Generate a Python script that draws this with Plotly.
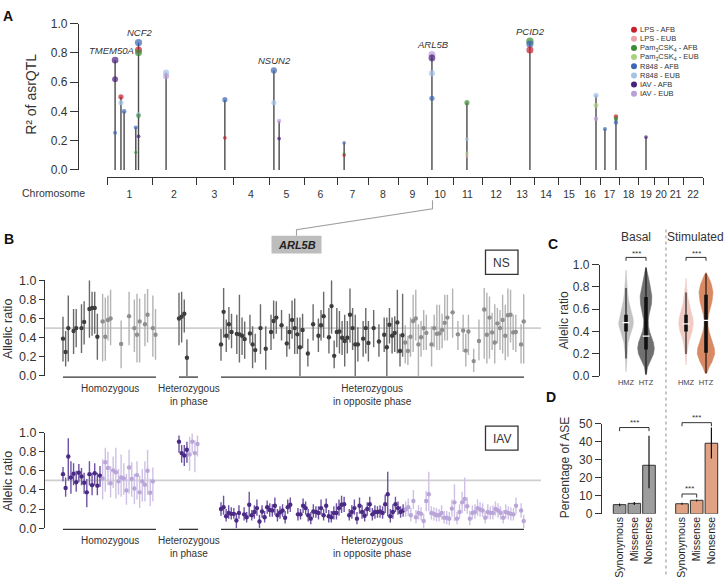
import plotly.graph_objects as go

W, H = 726, 584
def fx(p): return p / W
def fy(p): return 1 - p / H

FONT = "Arial, 'Liberation Sans', sans-serif"
INK = "#333333"

# ---------------- Panel A data ----------------
chrom_labels = [str(i) for i in range(1, 23)]
chrom_widths = [45, 44, 37, 36, 35, 33, 31, 30, 29, 26, 29, 28, 24, 24, 22, 20, 19, 19, 16, 14, 15, 20]

series_names = ["LPS - AFB", "LPS - EUB", "Pam<sub>3</sub>CSK<sub>4</sub> - AFB",
                "Pam<sub>3</sub>CSK<sub>4</sub> - EUB", "R848 - AFB", "R848 - EUB",
                "IAV - AFB", "IAV - EUB"]
series_colors = ["#c8202e", "#eba3ab", "#3b8c35", "#a9d27f", "#3d66b6", "#a4c3e8", "#4a1f7e", "#baa0d8"]

locus_chrom = [1, 1, 1, 1, 1, 2, 3, 5, 5, 7, 10, 11, 13, 16, 17, 17, 19]
locus_frac = [0.18, 0.31, 0.38, 0.64, 0.70, 0.32, 0.78, 0.14, 0.29, 0.23, 0.19, 0.48, 0.83, 0.80, 0.26, 0.84, 0.50]

pt_locus = [0, 0, 0, 1, 1, 2, 3, 3, 4, 4, 4, 4, 4, 4, 5, 5, 6, 6, 7, 7, 8, 8, 9, 9, 9,
            10, 10, 10, 10, 11, 11, 11, 11, 12, 12, 12, 13, 13, 13, 14, 15, 15, 15, 16]
pt_series = [6, 6, 4, 0, 5, 4, 4, 2, 4, 0, 2, 5, 2, 6, 5, 7, 4, 0, 4, 5, 7, 6, 4, 2, 0,
             7, 6, 5, 4, 2, 5, 3, 1, 2, 4, 0, 5, 3, 7, 4, 0, 2, 4, 6]
pt_r2 = [0.75, 0.62, 0.255, 0.50, 0.46, 0.40, 0.29, 0.12, 0.87, 0.82, 0.80, 0.38, 0.37, 0.23,
         0.665, 0.64, 0.48, 0.22, 0.68, 0.46, 0.335, 0.215, 0.185, 0.11, 0.10,
         0.79, 0.765, 0.66, 0.49, 0.46, 0.21, 0.115, 0.095, 0.88, 0.86, 0.82,
         0.51, 0.44, 0.35, 0.28, 0.365, 0.35, 0.325, 0.225]

gene_names = ["TMEM50A", "NCF2", "NSUN2", "ARL5B", "PCID2"]
gene_locus = [0, 4, 7, 10, 12]

# ---------------- Panel B data ----------------
N = None
ns_hom_val = [0.39, 0.25, 0.50, N, 0.47, 0.50, N, 0.50, 0.565, N, 0.70, 0.71, 0.71, 0.41, N, 0.57, 0.41, 0.585,
              0.60, N, N, N, 0.335, N, N, 0.625, N, 0.50, 0.43, 0.57, N, 0.54, 0.64, N, 0.50, 0.43]
ns_hom_lo = [0.15, 0.10, 0.15, N, 0.23, 0.30, N, 0.24, 0.33, N, 0.40, 0.42, 0.44, 0.17, N, 0.15, 0.16, 0.37,
             0.32, N, N, N, 0.08, N, N, 0.32, N, 0.25, 0.14, 0.14, N, 0.31, 0.35, N, 0.20, 0.17]
ns_hom_hi = [0.62, 0.47, 0.84, N, 0.70, 0.70, N, 0.75, 0.78, N, 1.00, 0.88, 0.88, 0.65, N, 0.86, 0.82, 0.84,
             0.90, N, N, N, 0.58, N, N, 0.88, N, 0.80, 0.86, 0.81, N, 0.86, 0.91, N, 0.84, 0.70]
ns_in_val = [0.60, 0.62, 0.65, 0.19, N, N, N, N]
ns_in_lo = [0.32, 0.35, 0.455, 0.0, N, N, N, N]
ns_in_hi = [0.87, 0.88, 0.80, 0.38, N, N, N, N]
ns_opp_val = [0.33, 0.67, 0.42, 0.54, 0.46, N, 0.44, 0.435, 0.42, 0.385,
              N, 0.445, 0.33, 0.27, N, 0.50, N, 0.285, N, 0.46,
              0.575, 0.61, N, 0.53, N, 0.34, 0.46, 0.585, 0.50, 0.435,
              0.30, 0.48, N, 0.235, N, 0.54, N, 0.42, 0.53, 0.625,
              N, 0.405, 0.73, 0.21, 0.46, 0.465, 0.40, 0.365, 0.40, 0.64,
              0.50, 0.33, 0.33, N, 0.39, 0.50, 0.345, N, 0.50, N,
              0.36, N, 0.43, 0.30, 0.535, 0.42, 0.45, 0.56, 0.26, 0.425,
              0.35, 0.26, 0.41, 0.575, 0.60, 0.33, 0.405, 0.50, 0.45, N,
              0.33, 0.50, 0.44, 0.445, 0.48, 0.555, 0.61, N, 0.665, N,
              0.435, N, 0.475, 0.265, 0.465, N, 0.155, N, 0.365, N,
              0.695, 0.43, 0.61, 0.455, 0.35, 0.55, 0.50, 0.585, 0.42, 0.635,
              0.64, 0.455, 0.46, N, 0.33, 0.57]
ns_opp_lo = [0.16, 0.40, 0.25, 0.38, 0.29, N, 0.23, 0.14, 0.22, 0.18,
             N, 0.34, 0.08, 0.14, N, 0.23, N, 0.065, N, 0.27,
             0.39, 0.44, N, 0.37, N, 0.20, 0.28, 0.39, 0.23, 0.23,
             0.0, 0.29, N, 0.10, N, 0.37, N, 0.25, 0.37, 0.40,
             N, 0.235, 0.44, 0.08, 0.30, 0.235, 0.22, 0.10, 0.235, 0.35,
             0.27, 0.0, 0.15, N, 0.20, 0.235, 0.15, N, 0.30, N,
             0.20, N, 0.25, 0.0, 0.34, 0.235, 0.25, 0.235, 0.10, 0.20,
             0.13, 0.115, 0.20, 0.25, 0.37, 0.0, 0.20, 0.27, 0.27, N,
             0.10, 0.30, 0.27, 0.27, 0.29, 0.37, 0.37, N, 0.40, N,
             0.27, N, 0.25, 0.10, 0.22, N, 0.04, N, 0.165, N,
             0.18, 0.13, 0.18, 0.27, 0.13, 0.34, 0.27, 0.235, 0.165, 0.20,
             0.35, 0.27, 0.25, N, 0.13, 0.13]
ns_opp_hi = [0.49, 0.92, 0.59, 0.72, 0.65, N, 0.64, 0.85, 0.61, 0.57,
             N, 0.64, 0.52, 0.44, N, 0.75, N, 0.52, N, 0.64,
             0.79, 0.78, N, 0.69, N, 0.52, 0.65, 0.79, 0.81, 0.61,
             0.61, 0.65, N, 0.39, N, 0.75, N, 0.60, 0.69, 0.88,
             N, 0.71, 1.00, 0.37, 0.71, 0.68, 0.575, 0.64, 0.575, 0.915,
             0.71, 0.64, 0.51, N, 0.575, 0.71, 0.575, N, 0.69, N,
             0.54, N, 0.61, 0.61, 0.71, 0.61, 0.625, 0.90, 0.44, 0.86,
             0.53, 0.42, 0.61, 0.85, 0.90, 0.54, 0.575, 0.69, 0.64, N,
             0.52, 0.64, 0.745, 0.745, 0.65, 0.85, 0.85, N, 0.915, N,
             0.575, N, 0.64, 0.44, 0.64, N, 0.285, N, 0.59, N,
             0.92, 0.87, 0.83, 0.66, 0.75, 0.71, 0.69, 0.85, 0.745, 0.915,
             0.90, 0.64, 0.64, N, 0.54, 0.855]

iav_hom_val = [0.565, 0.42, 0.75, 0.53, 0.57, 0.48, 0.58, 0.54, 0.475, 0.375,
               0.565, 0.45, 0.575, 0.445, 0.55, 0.52, 0.69, 0.63, 0.47, 0.605,
               0.585, 0.49, 0.53, 0.52, 0.395, 0.635, 0.515, 0.415, 0.555, 0.375,
               0.49, 0.455, 0.60, 0.37, 0.49, N]
iav_hom_lo = [0.49, 0.33, 0.50, 0.36, 0.45, 0.38, 0.48, 0.45, 0.36, 0.22,
              0.45, 0.345, 0.45, 0.345, 0.43, 0.30, 0.38, 0.45, 0.32, 0.42,
              0.31, 0.35, 0.33, 0.35, 0.245, 0.36, 0.33, 0.25, 0.30, 0.21,
              0.28, 0.28, 0.35, 0.23, 0.28, N]
iav_hom_hi = [0.64, 0.53, 0.94, 0.70, 0.68, 0.60, 0.67, 0.63, 0.58, 0.515,
              0.70, 0.58, 0.68, 0.58, 0.65, 0.72, 0.84, 0.80, 0.65, 0.75,
              0.84, 0.62, 0.77, 0.68, 0.57, 0.82, 0.69, 0.57, 0.70, 0.55,
              0.62, 0.70, 0.82, 0.52, 0.635, N]
iav_in_val = [0.905, 0.785, 0.76, 0.82, 0.77, 0.905, 0.785, 0.88]
iav_in_lo = [0.79, 0.685, 0.65, 0.685, 0.60, 0.79, 0.585, 0.75]
iav_in_hi = [0.97, 0.87, 0.87, 0.905, 0.955, 0.99, 0.92, 0.97]
iav_opp_val = [0.20, 0.22, 0.125, 0.16, 0.15, 0.15, 0.08, 0.16, N, 0.145,
               0.115, 0.245, 0.135, 0.17, 0.21, 0.07, 0.175, 0.115, 0.22, 0.19,
               0.185, 0.235, 0.135, 0.165, 0.185, 0.11, 0.22, 0.245, N, N,
               0.145, 0.145, 0.235, 0.21, 0.135, 0.10, 0.175, 0.17, 0.16, 0.21,
               0.135, 0.235, 0.125, 0.115, 0.16, 0.16, 0.21, 0.245, 0.25, N,
               0.135, 0.17, 0.21, 0.10, 0.235, 0.17, 0.13, 0.20, 0.25, 0.145,
               0.17, 0.17, 0.175, 0.16, 0.25, 0.355, 0.125, 0.17, 0.25, 0.21,
               0.17, 0.185, 0.195, 0.22, 0.135, 0.285, 0.115, 0.16, 0.15, 0.075,
               0.285, 0.355, 0.16, 0.15, 0.135, 0.135, 0.16, 0.11, 0.11, 0.10,
               0.205, 0.27, 0.10, 0.17, 0.27, 0.305, 0.23, 0.10, 0.16, 0.17,
               0.21, 0.195, 0.185, 0.11, 0.17, 0.16, 0.16, 0.20, 0.185, 0.16,
               0.11, 0.17, 0.16, 0.15, 0.145, 0.235, N, 0.185, 0.075]
iav_opp_lo = [0.13, 0.14, 0.07, 0.10, 0.09, 0.10, 0.0, 0.10, N, 0.08,
              0.06, 0.12, 0.08, 0.10, 0.13, 0.0, 0.11, 0.06, 0.15, 0.12,
              0.12, 0.14, 0.07, 0.10, 0.12, 0.05, 0.15, 0.17, N, N,
              0.08, 0.09, 0.16, 0.14, 0.07, 0.04, 0.11, 0.11, 0.09, 0.14,
              0.08, 0.16, 0.06, 0.06, 0.09, 0.09, 0.13, 0.16, 0.17, N,
              0.08, 0.10, 0.14, 0.04, 0.15, 0.10, 0.07, 0.13, 0.17, 0.08,
              0.10, 0.11, 0.11, 0.10, 0.16, 0.125, 0.06, 0.10, 0.17, 0.14,
              0.11, 0.12, 0.12, 0.13, 0.07, 0.20, 0.05, 0.09, 0.08, 0.0,
              0.18, 0.18, 0.09, 0.08, 0.07, 0.07, 0.09, 0.05, 0.04, 0.03,
              0.12, 0.075, 0.04, 0.10, 0.16, 0.18, 0.15, 0.03, 0.09, 0.10,
              0.13, 0.12, 0.12, 0.05, 0.10, 0.09, 0.09, 0.13, 0.11, 0.09,
              0.05, 0.10, 0.09, 0.08, 0.08, 0.15, N, 0.11, 0.0]
iav_opp_hi = [0.27, 0.34, 0.20, 0.24, 0.22, 0.21, 0.16, 0.24, N, 0.22,
              0.17, 0.38, 0.19, 0.24, 0.30, 0.14, 0.24, 0.18, 0.29, 0.26,
              0.25, 0.32, 0.20, 0.23, 0.25, 0.18, 0.30, 0.32, N, N,
              0.21, 0.20, 0.31, 0.28, 0.20, 0.17, 0.25, 0.23, 0.23, 0.30,
              0.20, 0.31, 0.19, 0.18, 0.23, 0.26, 0.30, 0.34, 0.33, N,
              0.20, 0.24, 0.30, 0.17, 0.32, 0.24, 0.20, 0.27, 0.33, 0.21,
              0.24, 0.23, 0.24, 0.23, 0.35, 0.59, 0.20, 0.25, 0.33, 0.28,
              0.23, 0.25, 0.28, 0.31, 0.21, 0.40, 0.19, 0.24, 0.22, 0.15,
              0.39, 0.59, 0.23, 0.22, 0.21, 0.20, 0.24, 0.18, 0.18, 0.17,
              0.30, 0.46, 0.17, 0.25, 0.38, 0.53, 0.32, 0.18, 0.24, 0.25,
              0.30, 0.27, 0.26, 0.18, 0.25, 0.23, 0.24, 0.28, 0.26, 0.23,
              0.19, 0.25, 0.23, 0.22, 0.21, 0.32, N, 0.26, 0.14]
# number of leading AFB (darker) samples in each group: homozygous, in phase, opposite phase
ns_n_afb = [14, 8, 70]
iav_n_afb = [15, 4, 72]
group_names = ["Homozygous", "Heterozygous<br>in phase", "Heterozygous<br>in opposite phase"]

# ---------------- Panel C data (violin outlines) ----------------
vio_names = ["HMZ", "HTZ", "HMZ", "HTZ"]
vio_levels = [
    [0.04, 0.10, 0.20, 0.30, 0.35, 0.40, 0.45, 0.48, 0.52, 0.57, 0.62, 0.68, 0.75, 0.82, 0.90, 0.95],
    [0.01, 0.08, 0.15, 0.20, 0.25, 0.30, 0.35, 0.40, 0.45, 0.50, 0.55, 0.60, 0.65, 0.72, 0.78, 0.84, 0.90, 0.95, 0.98],
    [0.10, 0.20, 0.30, 0.35, 0.40, 0.47, 0.52, 0.58, 0.65, 0.72, 0.80, 0.88],
    [0.02, 0.08, 0.13, 0.20, 0.25, 0.30, 0.35, 0.40, 0.45, 0.50, 0.55, 0.60, 0.67, 0.75, 0.82, 0.87, 0.91, 0.93],
]
vio_halfwidth = [
    [0.0, 0.3, 0.8, 2.0, 3.5, 5.5, 7.0, 7.3, 7.0, 5.5, 4.0, 2.5, 1.5, 0.8, 0.3, 0.0],
    [0.3, 1.5, 5.0, 7.5, 8.3, 7.5, 5.5, 3.5, 2.5, 2.3, 3.0, 4.5, 5.5, 5.8, 5.0, 3.5, 2.0, 0.8, 0.0],
    [0.0, 0.8, 2.5, 4.0, 6.0, 7.3, 6.8, 5.0, 3.0, 1.5, 0.6, 0.0],
    [0.5, 3.0, 6.0, 8.7, 8.3, 6.5, 4.5, 3.0, 2.0, 1.8, 2.5, 4.0, 6.0, 7.0, 5.5, 3.5, 1.5, 0.0],
]
# whisker low, q1, median, q3, whisker high
vio_stats = [[0.16, 0.40, 0.48, 0.55, 0.79],
             [0.02, 0.24, 0.36, 0.71, 0.97],
             [0.20, 0.40, 0.47, 0.55, 0.75],
             [0.03, 0.21, 0.50, 0.73, 0.92]]
vio_colors = ["#c2c2c2", "#707070", "#efcbc4", "#d98963"]

# ---------------- Panel D data ----------------
ase_cats = ["Synonymous", "Missense", "Nonsense"]
ase_basal = [5.1, 5.8, 26.9]
ase_basal_lo = [4.2, 4.9, 14.2]
ase_basal_hi = [5.8, 6.6, 43.3]
ase_stim = [5.6, 7.5, 39.1]
ase_stim_lo = [5.1, 6.9, 30.7]
ase_stim_hi = [6.2, 8.0, 47.8]

fig = go.Figure()

# ================= Panel A =================
chrom_start = []
acc = 0
for w in chrom_widths:
    chrom_start.append(acc)
    acc += w
genome_len = acc
chrom_bounds = chrom_start + [genome_len]
chrom_mid = [s + w / 2 for s, w in zip(chrom_start, chrom_widths)]
locus_x = [chrom_start[c - 1] + f * chrom_widths[c - 1] for c, f in zip(locus_chrom, locus_frac)]
locus_top = [max(r for l, r in zip(pt_locus, pt_r2) if l == i) for i in range(len(locus_x))]

sx, sy = [], []
for x, t in zip(locus_x, locus_top):
    sx += [x, x, None]
    sy += [0, t, None]
fig.add_trace(go.Scatter(x=sx, y=sy, mode="lines", line=dict(color="#4a4a4a", width=1.4),
                         xaxis="x", yaxis="y", hoverinfo="skip"))
order = sorted(range(len(pt_r2)), key=lambda i: -pt_r2[i])
fig.add_trace(go.Scatter(
    x=[locus_x[pt_locus[i]] for i in order], y=[pt_r2[i] for i in order], mode="markers",
    marker=dict(color=[series_colors[pt_series[i]] for i in order],
                size=[2.6 + 5.4 * pt_r2[i] for i in order], line=dict(width=0)),
    xaxis="x", yaxis="y", cliponaxis=False))

annotations = []
shapes = []

# legend (markers on a hidden axis, labels as annotations)
legend_rows = list(range(len(series_names), 0, -1))
fig.add_trace(go.Scatter(x=[0] * len(series_names), y=legend_rows, mode="markers",
                         marker=dict(color=series_colors, size=6), xaxis="x7", yaxis="y7", cliponaxis=False))
for name, row in zip(series_names, legend_rows):
    annotations.append(dict(text=name, x=0, y=row, xref="x7", yref="y7", showarrow=False, xanchor="left",
                            yanchor="middle", xshift=4, font=dict(size=7.5, color=INK, family=FONT)))

def ann(text, x, y, size, color=INK, **kw):
    d = dict(text=text, x=fx(x), y=fy(y), xref="paper", yref="paper", showarrow=False,
             font=dict(size=size, color=color, family=FONT), xanchor="center", yanchor="middle")
    d.update(kw)
    return d

for g, li in zip(gene_names, gene_locus):
    annotations.append(dict(text="<i>%s</i>" % g, x=locus_x[li], y=locus_top[li], xref="x", yref="y",
                            showarrow=False, yshift=10, xshift=-4 if g == "TMEM50A" else 1,
                            font=dict(size=9.5, color=INK, family=FONT)))

annotations.append(ann("<b>A</b>", 8, 9, 14, color="#111"))
annotations.append(ann("R² of asrQTL", 31, 90, 14, textangle=-90))
annotations.append(ann("Chromosome", 53, 190.5, 10.5))

# connector + ARL5B box
shapes.append(dict(type="path", xref="paper", yref="paper",
                   path="M %f,%f L %f,%f L %f,%f L %f,%f" % (fx(432.5), fy(198), fx(432.5), fy(206.7),
                                                            fx(296.5), fy(228.3), fx(296.5), fy(234.3)),
                   line=dict(color="#a0a0a0", width=1.1)))
shapes.append(dict(type="rect", xref="paper", yref="paper", x0=fx(271.5), x1=fx(321.5), y0=fy(252.5), y1=fy(234.3),
                   fillcolor="#bdbdbd", line=dict(width=0)))
annotations.append(ann("<b><i>ARL5B</i></b>", 296.5, 243.5, 11, color="#222"))

# ================= Panel B =================
def add_group(vals, los, his, x0, x1, n_afb, cols, xa, ya):
    n = len(vals)
    step = (x1 - x0) / (n - 1)
    for part, (pc, ec) in enumerate(cols):
        xs, ys, up, dn = [], [], [], []
        for i, v in enumerate(vals):
            if v is None or ((i < n_afb) != (part == 0)):
                continue
            xs.append(x0 + i * step)
            ys.append(v)
            up.append(his[i] - v)
            dn.append(v - los[i])
        if xs:
            fig.add_trace(go.Scatter(x=xs, y=ys, mode="markers",
                                     marker=dict(color=pc, size=4.4, line=dict(width=0)),
                                     error_y=dict(type="data", array=up, arrayminus=dn, color=ec,
                                                  thickness=1.4, width=0),
                                     xaxis=xa, yaxis=ya))

group_extent = [(63, 155.5), (179, 197.5), (221, 523.7)]
underline_extent = [(63, 156), (179, 198), (221, 524)]
ns_cols = [("#3d3d3d", "#6a6a6a"), ("#8e8e8e", "#b3b3b3")]
iav_cols = [("#4b2a86", "#6d52a3"), ("#b9a5d8", "#cfc1e6")]

ns_groups = [(ns_hom_val, ns_hom_lo, ns_hom_hi), (ns_in_val, ns_in_lo, ns_in_hi), (ns_opp_val, ns_opp_lo, ns_opp_hi)]
iav_groups = [(iav_hom_val, iav_hom_lo, iav_hom_hi), (iav_in_val, iav_in_lo, iav_in_hi),
              (iav_opp_val, iav_opp_lo, iav_opp_hi)]

for (xa, ya, groups, nafb, cols, lab, box_y) in [("x3", "y3", ns_groups, ns_n_afb, ns_cols, "NS", (249, 274)),
                                                   ("x4", "y4", iav_groups, iav_n_afb, iav_cols, "IAV", (429.5, 454))]:
    shapes.append(dict(type="line", xref=xa, yref=ya, x0=45, x1=541, y0=0.5, y1=0.5,
                       line=dict(color="#cfcfcf", width=1.6), layer="below"))
    for (vals, los, his), (gx0, gx1), na in zip(groups, group_extent, nafb):
        add_group(vals, los, his, gx0, gx1, na, cols, xa, ya)
    for (ux0, ux1), gname in zip(underline_extent, group_names):
        shapes.append(dict(type="line", xref=xa, yref=ya + " domain", x0=ux0, x1=ux1, y0=-0.012, y1=-0.012,
                           line=dict(color=INK, width=1.3)))
        annotations.append(dict(text=gname, x=(ux0 + ux1) / 2, y=-0.055, xref=xa, yref=ya + " domain",
                                showarrow=False, yanchor="top", xanchor="center",
                                font=dict(size=10, color=INK, family=FONT)))
    shapes.append(dict(type="rect", xref="paper", yref="paper", x0=fx(485.5), x1=fx(518), y0=fy(box_y[1]),
                       y1=fy(box_y[0]), line=dict(color=INK, width=1.3)))
    annotations.append(ann(lab, 501.8, (box_y[0] + box_y[1]) / 2 + 0.5, 12))

annotations.append(ann("<b>B</b>", 9, 238, 14, color="#111"))
annotations.append(ann("Allelic ratio", 8, 330, 12.5, textangle=-90))
annotations.append(ann("Allelic ratio", 8, 486, 12.5, textangle=-90))

# ================= Panel C =================
vio_centers = [26, 46, 86, 106]
for c, lv, hw, st, col in zip(vio_centers, vio_levels, vio_halfwidth, vio_stats, vio_colors):
    xs = [c + w for w in hw] + [c - w for w in reversed(hw)]
    ys = list(lv) + list(reversed(lv))
    fig.add_trace(go.Scatter(x=xs, y=ys, mode="lines", fill="toself", fillcolor=col,
                             line=dict(color=col, width=0.6), xaxis="x5", yaxis="y5", hoverinfo="skip"))
    fig.add_trace(go.Scatter(x=[c, c], y=[st[0], st[4]], mode="lines", line=dict(color="#111", width=1.1),
                             xaxis="x5", yaxis="y5"))
    fig.add_trace(go.Scatter(x=[c, c], y=[st[1], st[3]], mode="lines", line=dict(color="#111", width=3.6),
                             xaxis="x5", yaxis="y5"))
    fig.add_trace(go.Scatter(x=[c - 3.5, c + 3.5], y=[st[2], st[2]], mode="lines",
                             line=dict(color="white", width=1.3), xaxis="x5", yaxis="y5"))

for a, b in [(26, 46), (86, 106)]:
    shapes.append(dict(type="path", xref="x5", yref="y5 domain",
                       path="M %f,%f L %f,%f L %f,%f L %f,%f" % (a, 1.035, a, 1.065, b, 1.065, b, 1.035),
                       line=dict(color=INK, width=1)))
    annotations.append(dict(text="***", x=(a + b) / 2, y=1.045, xref="x5", yref="y5 domain", showarrow=False,
                            yanchor="bottom", font=dict(size=8, color=INK, family=FONT)))

annotations.append(ann("<b>C</b>", 553, 243, 14, color="#111"))
annotations.append(ann("Basal", 636, 236, 12))
annotations.append(ann("Stimulated", 695, 236, 12))
annotations.append(ann("Allelic ratio", 564, 321, 12, textangle=-90))
shapes.append(dict(type="line", xref="paper", yref="paper", x0=fx(666), x1=fx(666), y0=fy(228), y1=0,
                   line=dict(color="#a8a8a8", width=1.3, dash="dot")))

# ================= Panel D =================
bar_x_basal = [19.6, 34.3, 49.0]
bar_x_stim = [82.0, 96.7, 111.4]
for xs, vals, lo, hi, col in [(bar_x_basal, ase_basal, ase_basal_lo, ase_basal_hi, "#9d9d9d"),
                              (bar_x_stim, ase_stim, ase_stim_lo, ase_stim_hi, "#e1a183")]:
    fig.add_trace(go.Bar(x=xs, y=vals, width=12.6,
                         marker=dict(color=col, line=dict(color="#333", width=1)),
                         error_y=dict(type="data", array=[h - v for h, v in zip(hi, vals)],
                                      arrayminus=[v - l for v, l in zip(vals, lo)],
                                      color="#111", thickness=1.2, width=0),
                         xaxis="x6", yaxis="y6"))

def dbracket(a, b, top, leg, star):
    shapes.append(dict(type="path", xref="x6", yref="y6 domain",
                       path="M %f,%f L %f,%f L %f,%f L %f,%f" % (a, leg / 50, a, top / 50, b, top / 50, b, leg / 50),
                       line=dict(color=INK, width=1)))
    annotations.append(dict(text="***", x=(a + b) / 2, y=star / 50, xref="x6", yref="y6 domain",
                            showarrow=False, yanchor="bottom", font=dict(size=8, color=INK, family=FONT)))

dbracket(bar_x_basal[0], bar_x_basal[2], 47.8, 45.8, 47.0)
dbracket(bar_x_stim[0], bar_x_stim[2], 50.5, 48.5, 49.7)
dbracket(bar_x_stim[0], bar_x_stim[1], 11.0, 9.0, 10.2)

annotations.append(ann("<b>D</b>", 551, 400, 14, color="#111"))
annotations.append(ann("Percentage of ASE", 565, 472.5, 12, textangle=-90))

# ================= Layout =================
ax_common = dict(showgrid=False, zeroline=False, linecolor=INK, tickcolor=INK, linewidth=1.3, tickwidth=1.2,
                 tickfont=dict(size=12, color=INK, family=FONT))

layout = dict(
    width=W, height=H, margin=dict(l=0, r=0, t=0, b=0), paper_bgcolor="white",
    plot_bgcolor="rgba(0,0,0,0)", showlegend=False, barmode="overlay",
    font=dict(family=FONT, color=INK),
    xaxis=dict(ax_common, domain=[fx(107), fx(703)], range=[0, genome_len], anchor="free", position=fy(174),
               showline=True, ticks="outside", ticklen=7, tickcolor="rgba(0,0,0,0)",
               tickvals=chrom_mid, ticktext=chrom_labels, tickfont=dict(size=10.5, color=INK, family=FONT),
               minor=dict(tickvals=chrom_bounds, ticks="outside", ticklen=7, tickwidth=1.2, tickcolor=INK,
                          showgrid=False)),
    yaxis=dict(ax_common, domain=[fy(167), fy(17)], range=[0, 1], anchor="free", position=fx(78), showline=True,
               ticks="outside", ticklen=8, tickvals=[0, 0.2, 0.4, 0.6, 0.8, 1.0], tickformat=".1f"),
    xaxis3=dict(ax_common, domain=[fx(45), fx(545)], range=[45, 545], anchor="y3", visible=False),
    yaxis3=dict(ax_common, domain=[fy(378), fy(280)], range=[0, 1], anchor="x3", showline=True,
                ticks="outside", ticklen=5, tickvals=[0, 0.2, 0.4, 0.6, 0.8, 1.0], tickformat=".1f",
                tickfont=dict(size=12.5, color=INK, family=FONT)),
    xaxis4=dict(ax_common, domain=[fx(45), fx(545)], range=[45, 545], anchor="y4", visible=False),
    yaxis4=dict(ax_common, domain=[fy(534), fy(436)], range=[0, 1], anchor="x4", showline=True,
                ticks="outside", ticklen=5, tickvals=[0, 0.2, 0.4, 0.6, 0.8, 1.0], tickformat=".1f",
                tickfont=dict(size=12.5, color=INK, family=FONT)),
    xaxis5=dict(ax_common, domain=[fx(600), fx(720)], range=[0, 120], anchor="y5", showline=False, ticks="",
                tickvals=vio_centers, ticktext=vio_names, tickfont=dict(size=7.5, color="#444", family=FONT)),
    yaxis5=dict(ax_common, domain=[fy(378.3), fy(264)], range=[0, 1], anchor="x5", showline=True,
                ticks="outside", ticklen=7, tickvals=[0, 0.2, 0.4, 0.6, 0.8, 1.0], tickformat=".1f"),
    xaxis6=dict(ax_common, domain=[fx(602), fx(720)], range=[2, 120], anchor="y6", showline=False, ticks="",
                tickvals=bar_x_basal + bar_x_stim, ticktext=ase_cats + ase_cats, tickangle=-90,
                tickfont=dict(size=10.5, color="#222", family=FONT)),
    yaxis6=dict(ax_common, domain=[fy(519.3), fy(426.8)], range=[0, 50], anchor="x6", showline=True,
                ticks="outside", ticklen=6, tickvals=[0, 10, 20, 30, 40, 50]),
    xaxis7=dict(domain=[fx(629), fx(705)], range=[-5, 71], anchor="y7", visible=False),
    yaxis7=dict(domain=[fy(93.5), fy(18.5)], range=[0.5, 8.5], anchor="x7", visible=False),
    annotations=annotations, shapes=shapes,
)
fig.update_layout(**layout)
fig.write_html("out.html", config={"displayModeBar": False},
               post_script="document.body.style.margin='0';document.body.style.overflow='hidden';")
